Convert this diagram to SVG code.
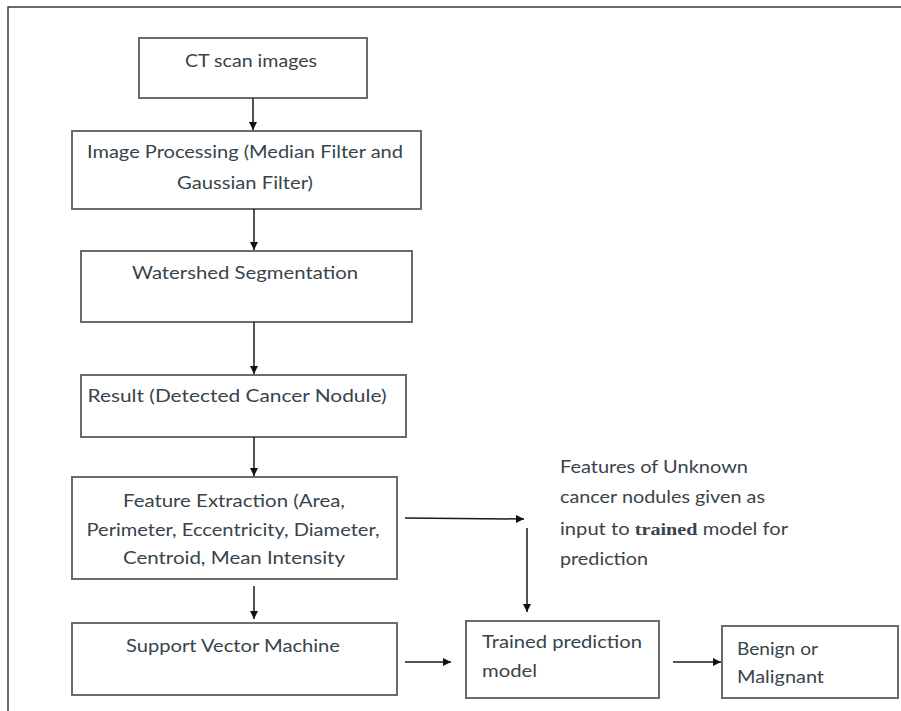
<svg xmlns="http://www.w3.org/2000/svg" width="901" height="711" viewBox="0 0 901 711">
  <defs>
    <marker id="arrow" viewBox="0 0 10 10" refX="10" refY="5" markerWidth="8" markerHeight="8" markerUnits="userSpaceOnUse" orient="auto">
      <path d="M0,0 L10,5 L0,10 z" fill="#111"/>
    </marker>
  </defs>
  <style>
    .box { fill: #ffffff; stroke: #6b6b6b; stroke-width: 2; }
    .lbl { font-family: Lato, "Open Sans", "Liberation Sans", sans-serif; font-size: 17px; fill: #37444c; }
    .mid { text-anchor: middle; }
    .edge { stroke: #1a1a1a; stroke-width: 1.5; fill: none; }
    .frame { stroke: #3a3a3a; stroke-width: 1.5; fill: none; }
  </style>

  <rect width="901" height="711" fill="#ffffff"/>
  <!-- page frame -->
  <path class="frame" d="M8,711 L8,7 L901,7"/>

  <g id="ct-scan">
    <rect class="box" x="139" y="38" width="228" height="60"/>
    <text class="lbl mid" x="251" y="67" textLength="132" lengthAdjust="spacingAndGlyphs">CT scan images</text>
  </g>

  <g id="image-processing">
    <rect class="box" x="72" y="131" width="349" height="78"/>
    <text class="lbl mid" x="245" y="158" textLength="316" lengthAdjust="spacingAndGlyphs">Image Processing (Median Filter and</text>
    <text class="lbl mid" x="245" y="189" textLength="136" lengthAdjust="spacingAndGlyphs">Gaussian Filter)</text>
  </g>

  <g id="watershed">
    <rect class="box" x="81" y="251" width="331" height="71"/>
    <text class="lbl mid" x="245" y="279" textLength="226" lengthAdjust="spacingAndGlyphs">Watershed Segmentation</text>
  </g>

  <g id="result">
    <rect class="box" x="81" y="375" width="325" height="62"/>
    <text class="lbl mid" x="237" y="402" textLength="299" lengthAdjust="spacingAndGlyphs">Result (Detected Cancer Nodule)</text>
  </g>

  <g id="feature-extraction">
    <rect class="box" x="72" y="477" width="325" height="102"/>
    <text class="lbl mid" x="234" y="507" textLength="222" lengthAdjust="spacingAndGlyphs">Feature Extraction (Area,</text>
    <text class="lbl mid" x="233" y="536" textLength="293" lengthAdjust="spacingAndGlyphs">Perimeter, Eccentricity, Diameter,</text>
    <text class="lbl mid" x="234" y="564" textLength="222" lengthAdjust="spacingAndGlyphs">Centroid, Mean Intensity</text>
  </g>

  <g id="svm">
    <rect class="box" x="72" y="623" width="325" height="72"/>
    <text class="lbl mid" x="233" y="652" textLength="214" lengthAdjust="spacingAndGlyphs">Support Vector Machine</text>
  </g>

  <g id="unknown-features">
    <text class="lbl" x="560" y="473" textLength="188" lengthAdjust="spacingAndGlyphs">Features of Unknown</text>
    <text class="lbl" x="560" y="503" textLength="205" lengthAdjust="spacingAndGlyphs">cancer nodules given as</text>
    <text class="lbl" x="560" y="535" textLength="228" lengthAdjust="spacingAndGlyphs">input to <tspan font-family="'Liberation Serif', serif" font-weight="bold">trained</tspan> model for</text>
    <text class="lbl" x="560" y="565" textLength="88" lengthAdjust="spacingAndGlyphs">prediction</text>
  </g>

  <g id="trained-model">
    <rect class="box" x="466" y="621" width="193" height="77"/>
    <text class="lbl" x="482" y="648" textLength="160" lengthAdjust="spacingAndGlyphs">Trained prediction</text>
    <text class="lbl" x="482" y="677" textLength="55" lengthAdjust="spacingAndGlyphs">model</text>
  </g>

  <g id="outcome">
    <rect class="box" x="722" y="626" width="176" height="72"/>
    <text class="lbl" x="737" y="655" textLength="81" lengthAdjust="spacingAndGlyphs">Benign or</text>
    <text class="lbl" x="737" y="683" textLength="87" lengthAdjust="spacingAndGlyphs">Malignant</text>
  </g>

  <g id="connectors">
    <line class="edge" x1="253" y1="98" x2="253" y2="130" marker-end="url(#arrow)"/>
    <line class="edge" x1="254" y1="209" x2="254" y2="250" marker-end="url(#arrow)"/>
    <line class="edge" x1="254" y1="322" x2="254" y2="374" marker-end="url(#arrow)"/>
    <line class="edge" x1="254" y1="437" x2="254" y2="476" marker-end="url(#arrow)"/>
    <line class="edge" x1="254" y1="586" x2="254" y2="619" marker-end="url(#arrow)"/>
    <line class="edge" x1="405" y1="518" x2="524" y2="519" marker-end="url(#arrow)"/>
    <line class="edge" x1="527" y1="528" x2="527" y2="612" marker-end="url(#arrow)"/>
    <line class="edge" x1="405" y1="662" x2="451" y2="662" marker-end="url(#arrow)"/>
    <line class="edge" x1="673" y1="662" x2="721" y2="662" marker-end="url(#arrow)"/>
  </g>
</svg>
